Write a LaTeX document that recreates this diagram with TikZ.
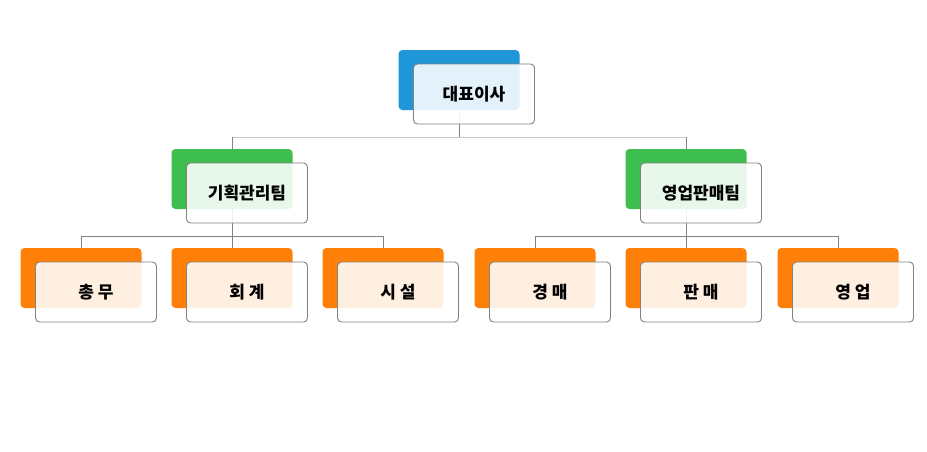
\documentclass[tikz,border=0pt]{standalone}
\usepackage{fontspec}
\newfontfamily\kr{Noto Sans CJK KR}
\definecolor{cblue}{RGB}{30,150,215}
\definecolor{cgreen}{RGB}{62,190,78}
\definecolor{corange}{RGB}{255,128,8}
\definecolor{cline}{RGB}{130,130,130}
\definecolor{clight}{RGB}{200,200,200}
\begin{document}
\begin{tikzpicture}[x=1pt,y=-1pt,
  backbox/.style={rounded corners=4pt, minimum width=121pt, minimum height=60pt, inner sep=0pt},
  frontbox/.style={draw=cline, line width=0.9pt, rounded corners=4pt, fill=white, fill opacity=0.88, text opacity=1,
     minimum width=121pt, minimum height=60pt, inner sep=0pt, font=\kr\bfseries\fontsize{17}{19}\selectfont},
  conn/.style={draw=cline, line width=0.9pt},
  lightconn/.style={draw=clight, line width=0.9pt}]
\useasboundingbox (0,0) rectangle (927,451);
\fill[white] (0,0) rectangle (927,451);
% bus coordinates
\coordinate (bus1) at (0,137);
\coordinate (bus2) at (0,236);
% back boxes positions
\coordinate (pT) at (459,80);
\coordinate (pA) at (232,179);
\coordinate (pB) at (686,179);
\coordinate (p1) at (81,278);
\coordinate (p2) at (232,278);
\coordinate (p3) at (383,278);
\coordinate (p4) at (535,278);
\coordinate (p5) at (686,278);
\coordinate (p6) at (838,278);
% connectors (drawn behind)
\draw[conn] (pT) -- (pT |- bus1);
\draw[lightconn] (pA |- bus1) -- (pB |- bus1);
\draw[conn] (pA |- bus1) -- (pA);
\draw[conn] (pB |- bus1) -- (pB);
\draw[conn] (pA) -- (pA |- bus2);
\draw[conn] (p1 |- bus2) -- (p3 |- bus2);
\draw[conn] (p1 |- bus2) -- (p1);
\draw[conn] (p2 |- bus2) -- (p2);
\draw[conn] (p3 |- bus2) -- (p3);
\draw[conn] (pB) -- (pB |- bus2);
\draw[conn] (p4 |- bus2) -- (p6 |- bus2);
\draw[conn] (p4 |- bus2) -- (p4);
\draw[conn] (p5 |- bus2) -- (p5);
\draw[conn] (p6 |- bus2) -- (p6);
% back boxes
\node[backbox, fill=cblue] (bT) at (pT) {};
\node[backbox, fill=cgreen] (bA) at (pA) {};
\node[backbox, fill=cgreen] (bB) at (pB) {};
\node[backbox, fill=corange] (b1) at (p1) {};
\node[backbox, fill=corange] (b2) at (p2) {};
\node[backbox, fill=corange] (b3) at (p3) {};
\node[backbox, fill=corange] (b4) at (p4) {};
\node[backbox, fill=corange] (b5) at (p5) {};
\node[backbox, fill=corange] (b6) at (p6) {};
% front boxes
\node[frontbox] (fT) at ([shift={(15,14)}]pT) {대표이사};
\node[frontbox] (fA) at ([shift={(15,14)}]pA) {기획관리팀};
\node[frontbox] (fB) at ([shift={(15,14)}]pB) {영업판매팀};
\node[frontbox] (f1) at ([shift={(15,14)}]p1) {총 무};
\node[frontbox] (f2) at ([shift={(15,14)}]p2) {회 계};
\node[frontbox] (f3) at ([shift={(15,14)}]p3) {시 설};
\node[frontbox] (f4) at ([shift={(15,14)}]p4) {경 매};
\node[frontbox] (f5) at ([shift={(15,14)}]p5) {판 매};
\node[frontbox] (f6) at ([shift={(15,14)}]p6) {영 업};
\end{tikzpicture}
\end{document}
